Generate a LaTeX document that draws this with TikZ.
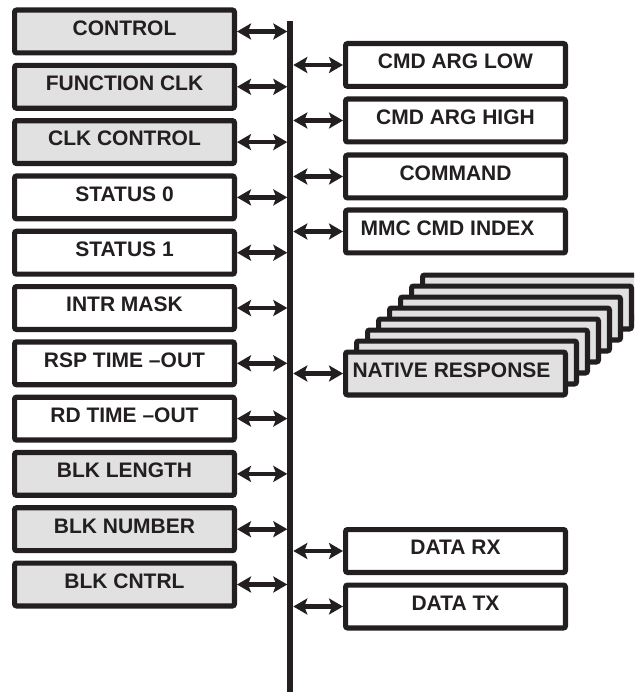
\documentclass[tikz,border=0pt]{standalone}
\usepackage{fontspec}
\setmainfont{Liberation Sans}
\usetikzlibrary{arrows.meta}
\definecolor{ink}{HTML}{231F20}
\definecolor{panel}{HTML}{E1E1E1}
\begin{document}
\begin{tikzpicture}[x=1pt,y=-1pt,
  reg/.style={draw=ink, line width=5.2pt, rounded corners=2pt,
    minimum width=219.8pt, minimum height=42.8pt, inner sep=0pt,
    font=\fontsize{21}{24}\selectfont\bfseries, text=ink,
    text height=15pt, text depth=7.3pt, fill=white},
  shaded/.style={reg, fill=panel},
  link/.style={draw=ink, line width=4.6pt,
    {Stealth[length=14pt,width=16pt,inset=3pt]}-{Stealth[length=14pt,width=16pt,inset=3pt]}},
]
\useasboundingbox (0,0) rectangle (634,692);
\clip (0,0) rectangle (634,692);

% register bus
\node[fill=ink, minimum width=6pt, minimum height=671pt, inner sep=0pt, outer sep=0pt] (bus) at (290.3,356.5) {};

% left-hand registers
\node[shaded] (ctrl)  at (124.5,31.5)  {CONTROL};
\node[shaded] (fclk)  at (124.5,86.8)  {FUNCTION CLK};
\node[shaded] (cclk)  at (124.5,142.1) {CLK CONTROL};
\node[reg]    (st0)   at (124.5,197.4) {STATUS 0};
\node[reg]    (st1)   at (124.5,252.7) {STATUS 1};
\node[reg]    (imask) at (124.5,308.0) {INTR MASK};
\node[reg]    (rsp)   at (124.5,363.3) {RSP TIME –OUT};
\node[reg]    (rd)    at (124.5,418.6) {RD TIME –OUT};
\node[shaded] (blen)  at (124.5,473.9) {BLK LENGTH};
\node[shaded] (bnum)  at (124.5,529.2) {BLK NUMBER};
\node[shaded] (bctl)  at (124.5,584.5) {BLK CNTRL};

\foreach \n in {ctrl,fclk,cclk,st0,st1,imask,rsp,rd,blen,bnum,bctl}
  \draw[link] (\n.east) -- (\n.east -| bus.west);

% right-hand registers
\node[reg] (argl) at (455.5,65)    {CMD ARG LOW};
\node[reg] (argh) at (455.5,120.5) {CMD ARG HIGH};
\node[reg] (cmd)  at (455.5,176.5) {COMMAND};
\node[reg] (idx)  at (455.5,231.5) {MMC CMD INDEX\hspace*{16pt}};

% stacked response registers
\foreach \k in {7,6,...,1}
  \node[shaded] (nr\k) at ({455.5+11*\k},{373.5-11*\k}) {};
\node[shaded] (nresp) at (455.5,373.5) {NATIVE RESPONSE\hspace*{8pt}};

\node[reg] (drx) at (455.5,551)   {DATA RX};
\node[reg] (dtx) at (455.5,606.5) {DATA TX};

\foreach \n in {argl,argh,cmd,idx,nresp,drx,dtx}
  \draw[link] (\n.west -| bus.east) -- (\n.west);
\end{tikzpicture}
\end{document}
